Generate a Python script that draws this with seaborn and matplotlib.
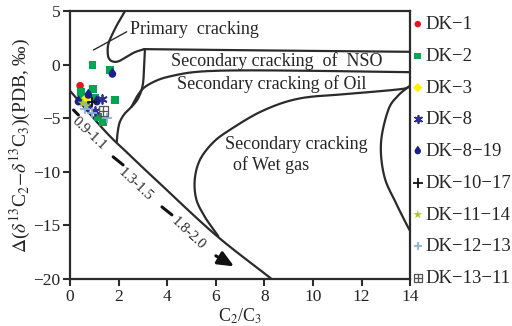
import matplotlib as mpl

mpl.use("Agg")

import matplotlib.pyplot as plt
import numpy as np
import seaborn as sns
from matplotlib.path import Path

sns.set_theme(style="white")
plt.rcParams["font.family"] = ["Liberation Serif", "DejaVu Serif"]
plt.rcParams["mathtext.fontset"] = "stix"

# ---- sample points (C2/C3, delta) ----
DK1_X = [0.41]
DK1_Y = [-1.96]
DK2_X = [0.92, 1.64, 0.93, 0.44, 0.47, 1.03, 1.85, 1.16, 1.34]
DK2_Y = [-0.03, -0.5, -2.3, -2.52, -2.98, -3.14, -3.29, -4.85, -5.32]
DK3_X = [0.68]
DK3_Y = [-3.14]
DK8_X = [1.3, 1.03, 0.75]
DK8_Y = [-3.23, -4.32, -3.9]
DK819_X = [1.74, 0.34, 0.75, 1.1]
DK819_Y = [-0.87, -3.45, -2.83, -3.45]
DK1017_X = [0.89]
DK1017_Y = [-3.45]
DK1114_X = [0.52, 0.66]
DK1114_Y = [-3.6, -3.85]
DK1213_X = [0.89, 1.51, 0.6]
DK1213_Y = [-4.53, -5.0, -4.1]
DK1311_X = [1.37]
DK1311_Y = [-4.32]

# ---- boundary curves of the genetic diagram ----
PRIMARY_X = [2.26, 2.0, 1.75, 1.57, 1.55, 1.62, 1.78, 2.0, 2.3, 2.65, 3.05]
PRIMARY_Y = [5.0, 4.0, 2.9, 1.9, 1.0, 0.5, 0.28, 0.32, 0.7, 1.15, 1.45]
NSO_TOP_X = [3.05, 8.0, 14.0]
NSO_TOP_Y = [1.45, 1.33, 1.2]
NSO_LEFT_X = [3.08, 3.05, 2.99, 2.8, 2.53, 2.26, 2.05, 1.96, 1.92]
NSO_LEFT_Y = [1.45, -0.03, -1.9, -3.14, -3.92, -4.53, -5.32, -6.25, -7.2]
OIL_X = [2.53, 2.79, 3.08, 3.61, 4.19, 5.0, 6.0, 7.5, 9.5, 11.5, 14.0]
OIL_Y = [-3.92, -2.83, -2.08, -1.43, -1.05, -0.72, -0.57, -0.53, -0.56, -0.62, -0.7]
WETGAS_X = [14.0, 13.55, 11.5, 9.45, 7.93, 6.57, 5.87, 5.34, 5.13, 5.2, 5.54, 5.85, 6.1]
WETGAS_Y = [-2.05, -2.3, -2.72, -3.15, -4.3, -6.09, -7.3, -8.9, -10.75, -12.6, -14.17, -15.2, -16.0]
RIGHT_X = [14.0, 13.5, 13.1, 12.8, 12.94, 13.42, 13.9, 14.0]
RIGHT_Y = [-1.95, -2.9, -4.23, -7.33, -10.44, -12.92, -15.1, -15.5]
DIAG_X = [0.0, 1.44, 2.39, 3.7, 6.0, 8.3]
DIAG_Y = [-2.45, -6.2, -8.3, -11.1, -15.9, -20.0]

RATIO_LABELS = ["0.9-1.1", "1.3-1.5", "1.8-2.0"]
RATIO_X = [0.8, 2.7, 4.88]
RATIO_Y = [-6.45, -11.2, -15.75]
DASH_X = [(0.14, 0.34), (1.77, 2.18), (3.78, 4.19)]
DASH_Y = [(-4.23, -4.69), (-8.6, -9.35), (-13.27, -14.01)]
ARROW_X = [5.9, 6.85]
ARROW_Y = [-17.7, -18.95]


def smooth(xs, ys, n=16):
    """Catmull-Rom curve through the given points (drawing only)."""
    p = np.column_stack([xs, ys]).astype(float)
    p = np.vstack([2 * p[0] - p[1], p, 2 * p[-1] - p[-2]])
    t = np.linspace(0, 1, n, endpoint=False)[:, None]
    out = []
    for i in range(1, len(p) - 2):
        p0, p1, p2, p3 = p[i - 1], p[i], p[i + 1], p[i + 2]
        seg = 0.5 * ((2 * p1) + (-p0 + p2) * t + (2 * p0 - 5 * p1 + 4 * p2 - p3) * t**2
                     + (-p0 + 3 * p1 - 3 * p2 + p3) * t**3)
        out.append(seg)
    out.append(p[-2][None, :])
    out = np.vstack(out)
    return out[:, 0], out[:, 1]


def drop_marker():
    a0 = np.arccos(1 / 1.7)
    ang = np.linspace(np.pi / 2 - a0, np.pi / 2 + a0 - 2 * np.pi, 40)
    body = np.column_stack([np.cos(ang), np.sin(ang)])
    verts = np.vstack([[0, 1.7], body, [0, 1.7]])
    return Path(verts, closed=True)


def boxplus_marker():
    verts = [(-1, -1), (1, -1), (1, 1), (-1, 1), (-1, -1), (0, -1), (0, 1), (-1, 0), (1, 0)]
    codes = [Path.MOVETO, Path.LINETO, Path.LINETO, Path.LINETO, Path.LINETO,
             Path.MOVETO, Path.LINETO, Path.MOVETO, Path.LINETO]
    return Path(verts, codes)


def main():
    fig = plt.figure(figsize=(5.12, 3.26), dpi=100)
    ax = fig.add_axes([0.137, 0.144, 0.664, 0.822])

    line_kw = dict(color="#2b2b2b", linewidth=1.6, solid_capstyle="round")
    for xs, ys in [(PRIMARY_X, PRIMARY_Y), (NSO_TOP_X, NSO_TOP_Y), (NSO_LEFT_X, NSO_LEFT_Y),
                   (OIL_X, OIL_Y), (WETGAS_X, WETGAS_Y), (RIGHT_X, RIGHT_Y), (DIAG_X, DIAG_Y)]:
        sx, sy = smooth(xs, ys)
        sns.lineplot(x=sx, y=sy, sort=False, estimator=None, ax=ax, **line_kw)

    # pointer to "Primary cracking"
    ax.plot([0.96, 2.33], [1.37, 3.07], color="#2b2b2b", linewidth=1.0)

    for lx, ly in zip(DASH_X, DASH_Y):
        ax.plot(lx, ly, color="#111111", linewidth=2.2)
    for lab, tx, ty in zip(RATIO_LABELS, RATIO_X, RATIO_Y):
        ax.text(tx, ty, lab, rotation=-43, ha="center", va="center",
                rotation_mode="anchor", fontsize=10.5)

    ax.annotate("", xy=(ARROW_X[1], ARROW_Y[1]), xytext=(ARROW_X[0], ARROW_Y[0]),
                arrowprops=dict(arrowstyle="-|>,head_length=0.8,head_width=0.35",
                                color="#111111", linewidth=2.2))

    groups = [
        ("DK\u22121", DK1_X, DK1_Y, "o", "#e8141c", 30),
        ("DK\u22122", DK2_X, DK2_Y, "s", "#00a650", 32),
        ("DK\u22123", DK3_X, DK3_Y, "D", "#fff200", 32),
        ("DK\u22128", DK8_X, DK8_Y, (6, 2, 0), "#2e3192", 40),
        ("DK\u22128\u221219", DK819_X, DK819_Y, drop_marker(), "#1b1f8a", 85),
        ("DK\u221210\u221217", DK1017_X, DK1017_Y, "+", "#111111", 60),
        ("DK\u221211\u221214", DK1114_X, DK1114_Y, "*", "#a8c832", 60),
        ("DK\u221212\u221213", DK1213_X, DK1213_Y, "+", "#8fb0e0", 50),
    ]
    for label, xs, ys, mk, col, size in groups:
        filled = not (isinstance(mk, tuple) or mk == "+")
        kw = dict(edgecolor="none") if filled else dict(linewidth=1.3)
        sns.scatterplot(x=xs, y=ys, marker=mk, color=col, s=size, label=label,
                        ax=ax, zorder=5, **kw)
    ax.scatter(DK1311_X, DK1311_Y, marker=boxplus_marker(), s=45, facecolors="none",
               edgecolors="#555555", linewidths=0.9, label="DK\u221213\u221211", zorder=5)

    tf = 13
    ax.text(2.46, 3.3, "Primary  cracking", fontsize=tf, va="center")
    ax.text(8.5, 0.34, "Secondary cracking  of  NSO", fontsize=tf, va="center", ha="center")
    ax.text(8.3, -2.3, "Secondary cracking of Oil", fontsize=tf, va="baseline", ha="center")
    ax.text(6.37, -7.49, "Secondary cracking", fontsize=tf, va="center")
    ax.text(6.69, -9.35, "of Wet gas", fontsize=tf, va="center")

    ax.set_xlim(0, 14)
    ax.set_ylim(-20, 5)
    ax.set_xticks(range(0, 15, 2))
    ax.set_yticks(range(-20, 6, 5))
    ax.tick_params(axis="both", direction="out", length=5, width=1.5, labelsize=12.5,
                   bottom=True, left=True, pad=2, colors="#2b2b2b", labelcolor="#222222")
    for sp in ax.spines.values():
        sp.set_linewidth(1.6)
        sp.set_color("#2b2b2b")
    ax.set_xlabel(r"C$_2$/C$_3$", fontsize=13, labelpad=1)
    ax.set_ylabel(r"$\Delta$($\delta^{13}$C$_2$$-$$\delta^{13}$C$_3$)(PDB, ‰)", fontsize=14, labelpad=0)

    ax.legend(loc="upper left", bbox_to_anchor=(0.995, 0.982), frameon=False, fontsize=13.5,
              handletextpad=-0.1, handlelength=1.0, labelspacing=0.78, borderaxespad=0.0,
              borderpad=0.0, markerscale=0.85)

    fig.savefig("out.png", dpi=100)
    plt.close(fig)


if __name__ == "__main__":
    main()
